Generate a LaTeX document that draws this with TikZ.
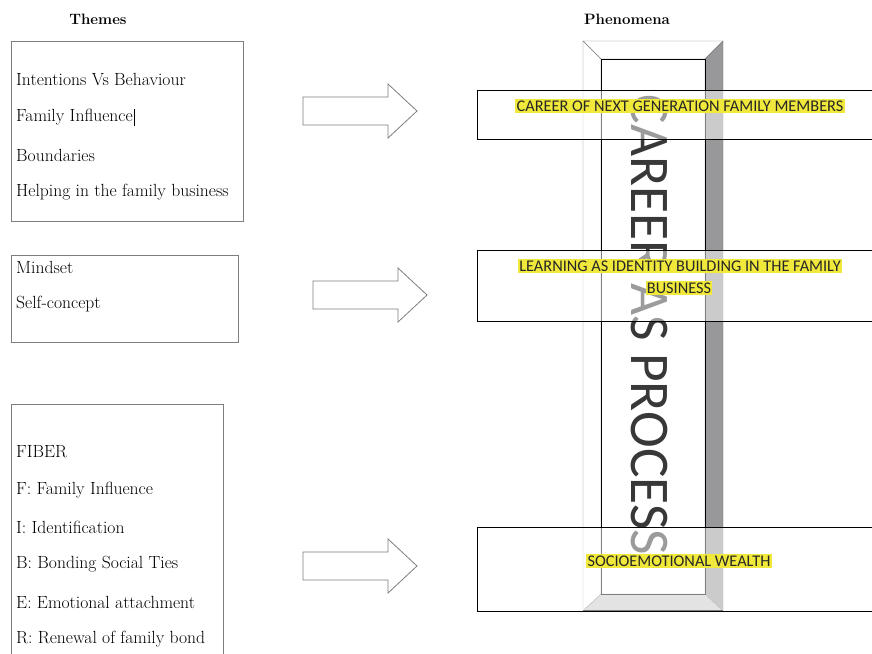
\documentclass[tikz,border=0pt]{standalone}
\usepackage{fontspec}
\newfontfamily\calibri{Carlito}
\usepackage{tikz}
\definecolor{hilite}{RGB}{240,233,60}
\definecolor{edgegray}{RGB}{125,125,125}
\definecolor{sidegray}{RGB}{152,152,154}
\definecolor{footgray}{RGB}{200,200,202}
\tikzset{
  heading/.style={font=\fontsize{15}{15}\selectfont\bfseries, inner sep=0pt},
  theme/.style={anchor=west, font=\fontsize{17.6}{17.6}\selectfont, inner sep=0pt},
  themebox/.style={draw=edgegray, line width=0.8pt},
  blockarrow/.style={draw=edgegray, fill=white, line width=0.8pt, line join=miter},
  band/.style={draw=black, line width=0.8pt, fill=white, fill opacity=0.5},
  phen/.style={fill=hilite, text=black!85, font=\calibri\fontsize{16.3}{16.3}\selectfont, inner sep=1.2pt}
}
\begin{document}
\begin{tikzpicture}[x=1pt, y=-1pt]
	\clip (0,0) rectangle (872,653);
	\useasboundingbox (0,0) rectangle (872,653);
	% headings
	\node[heading] (themes) at (98,19) {Themes};
	\node[heading] (phenomena) at (627,19) {Phenomena};
	% theme boxes
	\draw[themebox] (11,41) rectangle (243,221);
	\draw[themebox] (11,255) rectangle (238,342);
	\draw[themebox] (11,404) rectangle (223,670);
	\node[theme] (intent) at (16,80) {Intentions Vs Behaviour};
	\node[theme] (influence) at (16,117) {Family Influence\hspace{1pt}\rule[-4pt]{1.2pt}{17pt}};
	\node[theme] (bound) at (16,155) {Boundaries};
	\node[theme] (helping) at (16,192) {Helping in the family business};
	\node[theme] (mindset) at (16,267) {Mindset};
	\node[theme] (selfc) at (16,304) {Self-concept};
	\foreach \y/\t/\n in {452/FIBER/fiber, 490/F: Family Influence/fibf, 527/I: Identification/fibi,
		564/B: Bonding Social Ties/fibb, 602/E: Emotional attachment/fibe, 639/R: Renewal of family bond/fibr}
		\node[theme] (\n) at (16,\y) {\t};
	% block arrows
	\foreach \x/\y in {303/111, 313/295, 303/566} {
		\draw[blockarrow] (\x,\y-14) -- ++(85,0) -- ++(0,-13) -- ++(29,27) -- ++(-29,27) -- ++(0,-13) -- ++(-85,0) -- cycle;
	}
	% bevelled frame
	\draw[draw=edgegray, fill=white] (583,41) -- (723,41) -- (705,59) -- (601,59) -- cycle;
	\draw[draw=edgegray, fill=white] (583,41) -- (601,59) -- (601,594) -- (583,611) -- cycle;
	\draw[draw=edgegray, fill=sidegray] (723,41) -- (723,611) -- (705,594) -- (705,59) -- cycle;
	\draw[draw=edgegray, fill=footgray] (583,611) -- (723,611) -- (705,594) -- (601,594) -- cycle;
	\draw[black, line width=0.6pt] (601,59) rectangle (705,594);
	\draw[black, line width=1.6pt] (583,611) -- (723,611);
	\node[rotate=-90, inner sep=0pt, text=black!78, font=\calibri\fontsize{56}{56}\selectfont] (process) at (649,325)
		{\scalebox{0.99}[1]{CAREER AS PROCESS}};
	% phenomena bands
	\draw[band] (477,90) rectangle (890,139);
	\draw[band] (477,250) rectangle (890,321);
	\draw[band] (477,527) rectangle (890,611);
	\node[phen] (career) at (680,106) {CAREER OF NEXT GENERATION FAMILY MEMBERS};
	\node[phen] (learning) at (680,266) {LEARNING AS IDENTITY BUILDING IN THE FAMILY};
	\node[phen] (business) at (679,288) {BUSINESS};
	\node[phen] (sew) at (679,561) {SOCIOEMOTIONAL WEALTH};
\end{tikzpicture}
\end{document}
